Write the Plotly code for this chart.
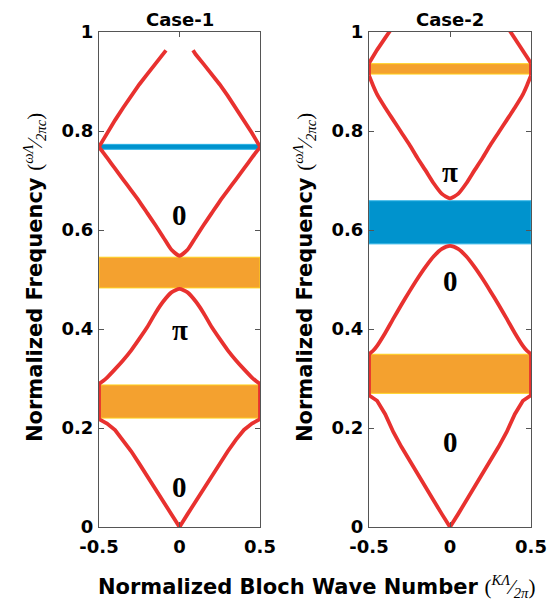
import plotly.graph_objects as go

# ---------------- data ----------------
k_full = [-0.5, -0.475, -0.45, -0.4, -0.35, -0.3, -0.25, -0.2, -0.15, -0.1, -0.05, 0.0,
          0.05, 0.1, 0.15, 0.2, 0.25, 0.3, 0.35, 0.4, 0.45, 0.475, 0.5]

# Case-1 bands (normalized frequency)
c1_band1 = [0.218, 0.214, 0.209, 0.196, 0.176, 0.153, 0.128, 0.103, 0.078, 0.052, 0.026, 0.0,
            0.026, 0.052, 0.078, 0.103, 0.128, 0.153, 0.176, 0.196, 0.209, 0.214, 0.218]
c1_band2 = [0.289, 0.295, 0.302, 0.319, 0.337, 0.357, 0.380, 0.404, 0.432, 0.456, 0.474, 0.481,
            0.474, 0.456, 0.432, 0.404, 0.380, 0.357, 0.337, 0.319, 0.302, 0.295, 0.289]
c1_band3 = [0.767, 0.757, 0.746, 0.724, 0.702, 0.680, 0.658, 0.634, 0.610, 0.585, 0.560, 0.548,
            0.560, 0.585, 0.610, 0.634, 0.658, 0.680, 0.702, 0.724, 0.746, 0.757, 0.767]
c1_band4_k_left = [-0.5, -0.475, -0.45, -0.4, -0.35, -0.3, -0.25, -0.2, -0.15, -0.1, -0.084]
c1_band4_left = [0.768, 0.782, 0.796, 0.822, 0.847, 0.871, 0.894, 0.915, 0.935, 0.955, 0.963]
c1_band4_k_right = [0.084, 0.1, 0.15, 0.2, 0.25, 0.3, 0.35, 0.4, 0.45, 0.475, 0.5]
c1_band4_right = [0.963, 0.955, 0.935, 0.915, 0.894, 0.871, 0.847, 0.822, 0.796, 0.782, 0.768]

# Case-2 bands
c2_band1 = [0.266, 0.261, 0.255, 0.228, 0.192, 0.162, 0.134, 0.107, 0.080, 0.053, 0.026, 0.0,
            0.026, 0.053, 0.080, 0.107, 0.134, 0.162, 0.192, 0.228, 0.255, 0.261, 0.266]
c2_band2 = [0.349, 0.356, 0.366, 0.392, 0.421, 0.449, 0.476, 0.502, 0.526, 0.547, 0.562, 0.568,
            0.562, 0.547, 0.526, 0.502, 0.476, 0.449, 0.421, 0.392, 0.366, 0.356, 0.349]
c2_band3 = [0.912, 0.892, 0.874, 0.847, 0.822, 0.797, 0.772, 0.745, 0.720, 0.694, 0.673, 0.664,
            0.673, 0.694, 0.720, 0.745, 0.772, 0.797, 0.822, 0.847, 0.874, 0.892, 0.912]
c2_band4_k_left = [-0.5, -0.475, -0.45, -0.4, -0.35]
c2_band4_left = [0.937, 0.951, 0.964, 0.988, 1.012]
c2_band4_k_right = [0.35, 0.4, 0.45, 0.475, 0.5]
c2_band4_right = [1.012, 0.988, 0.964, 0.951, 0.937]

# Band gaps: (low, high, colour-kind)
c1_gaps = [(0.220, 0.287, "orange"), (0.483, 0.545, "orange"), (0.763, 0.773, "blue")]
c2_gaps = [(0.270, 0.349, "orange"), (0.572, 0.659, "blue"), (0.915, 0.936, "orange")]

# Gap-edge segments (k = +-0.5) where Re(k) stays at zone edge
c1_edge_gaps = [(0.218, 0.289)]
c2_edge_gaps = [(0.266, 0.349), (0.912, 0.937)]

# Mode labels: (y, text)
c1_labels = [(0.081, "0"), (0.398, "π"), (0.630, "0")]
c2_labels = [(0.172, "0"), (0.496, "0"), (0.718, "π")]

titles = ["Case-1", "Case-2"]
x_tickvals = [-0.5, 0, 0.5]
x_ticktext = ["-0.5", "0", "0.5"]
y_tickvals = [0, 0.2, 0.4, 0.6, 0.8, 1]
y_ticktext = ["0", "0.2", "0.4", "0.6", "0.8", "1"]

# ---------------- style ----------------
RED = "#E8312F"
ORANGE = "#F4A12F"
ORANGE_EDGE = "#FFD21F"
BLUE = "#0093CD"
BLUE_EDGE = "#2DB3E6"
AXC = "#555555"
SANS = "DejaVu Sans"
SERIF = "Liberation Serif"
LW = 3.8

W, H = 550, 599   # page body has an 8px margin
OFF = 8


def px_x(p):
    return (p - OFF) / W


def px_y(p):
    return 1 - (p - OFF) / H


fig = go.Figure()


def add_line(x, y, xa, ya, shape="spline"):
    fig.add_trace(go.Scatter(x=x, y=y, xaxis=xa, yaxis=ya, mode="lines",
                             line=dict(color=RED, width=LW, shape=shape, smoothing=0.6),
                             hoverinfo="skip", showlegend=False))


# Case-1
add_line(k_full, c1_band1, "x", "y", "linear")
add_line(k_full, c1_band2, "x", "y")
add_line(k_full, c1_band3, "x", "y")
add_line(c1_band4_k_left, c1_band4_left, "x", "y", "linear")
add_line(c1_band4_k_right, c1_band4_right, "x", "y", "linear")
for lo, hi in c1_edge_gaps:
    add_line([-0.5, -0.5], [lo, hi], "x", "y", "linear")
    add_line([0.5, 0.5], [lo, hi], "x", "y", "linear")

# Case-2
add_line(k_full, c2_band1, "x2", "y2", "linear")
add_line(k_full, c2_band2, "x2", "y2")
add_line(k_full, c2_band3, "x2", "y2")
add_line(c2_band4_k_left, c2_band4_left, "x2", "y2", "linear")
add_line(c2_band4_k_right, c2_band4_right, "x2", "y2", "linear")
for lo, hi in c2_edge_gaps:
    add_line([-0.5, -0.5], [lo, hi], "x2", "y2", "linear")
    add_line([0.5, 0.5], [lo, hi], "x2", "y2", "linear")

# Gap rectangles
for gaps, xr, yr in [(c1_gaps, "x", "y"), (c2_gaps, "x2", "y2")]:
    for lo, hi, kind in gaps:
        fill = ORANGE if kind == "orange" else BLUE
        edge = ORANGE_EDGE if kind == "orange" else BLUE_EDGE
        fig.add_shape(type="rect", xref=xr, yref=yr, x0=x_tickvals[0], x1=x_tickvals[-1],
                      y0=lo, y1=hi, fillcolor=fill, line=dict(color=edge, width=1),
                      layer="below")

# Mode labels
for labels, xr, yr in [(c1_labels, "x", "y"), (c2_labels, "x2", "y2")]:
    for yv, t in labels:
        fig.add_annotation(x=0, y=yv, xref=xr, yref=yr, text="<b>%s</b>" % t,
                           showarrow=False, font=dict(family=SERIF, size=29, color="black"))

# Titles
for t, xc in zip(titles, [179.5, 450]):
    fig.add_annotation(x=px_x(xc), y=px_y(19), xref="paper", yref="paper", text="<b>%s</b>" % t,
                       showarrow=False, font=dict(family=SANS, size=18, color="black"),
                       xanchor="center", yanchor="middle")

ytitle = ("<b>Normalized Frequency</b> <span style=\"font-family:'Liberation Serif'\">"
          "(<i><sup>ωΛ</sup>⁄<sub>2πc</sub></i>)</span>")
for xc in [34, 304]:
    fig.add_annotation(x=px_x(xc), y=px_y(278), xref="paper", yref="paper", text=ytitle,
                       textangle=-90, showarrow=False,
                       font=dict(family=SANS, size=21, color="black"),
                       xanchor="center", yanchor="middle")

xtitle = ("<b>Normalized Bloch Wave Number</b> <span style=\"font-family:'Liberation Serif'\">"
          "(<i><sup>KΛ</sup>⁄<sub>2π</sub></i>)</span>")
fig.add_annotation(x=px_x(316), y=px_y(586), xref="paper", yref="paper", text=xtitle,
                   showarrow=False, font=dict(family=SANS, size=21, color="black"),
                   xanchor="center", yanchor="middle")

axis_common = dict(showgrid=False, zeroline=False, showline=True, linecolor=AXC, linewidth=1.2,
                   mirror="ticks", ticks="inside", ticklen=5, tickcolor=AXC, tickwidth=1,
                   automargin=False,
                   tickfont=dict(family=SANS, size=18, color="black", weight="bold"))

ydom = [px_y(527), px_y(32)]
fig.update_layout(
    width=W, height=H,
    margin=dict(l=0, r=0, t=0, b=0, autoexpand=False),
    paper_bgcolor="white", plot_bgcolor="white",
    showlegend=False,
    xaxis=dict(domain=[px_x(99), px_x(260)], range=[-0.5, 0.5], anchor="y",
               tickvals=x_tickvals, ticktext=x_ticktext, ticklabelstandoff=3, **axis_common),
    yaxis=dict(domain=ydom, range=[0, 1], anchor="x",
               tickvals=y_tickvals, ticktext=y_ticktext, ticklabelstandoff=1, **axis_common),
    xaxis2=dict(domain=[px_x(369), px_x(531)], range=[-0.5, 0.5], anchor="y2",
                tickvals=x_tickvals, ticktext=x_ticktext, ticklabelstandoff=3, **axis_common),
    yaxis2=dict(domain=ydom, range=[0, 1], anchor="x2",
                tickvals=y_tickvals, ticktext=y_ticktext, ticklabelstandoff=1, **axis_common),
)

fig.write_html("out.html")
